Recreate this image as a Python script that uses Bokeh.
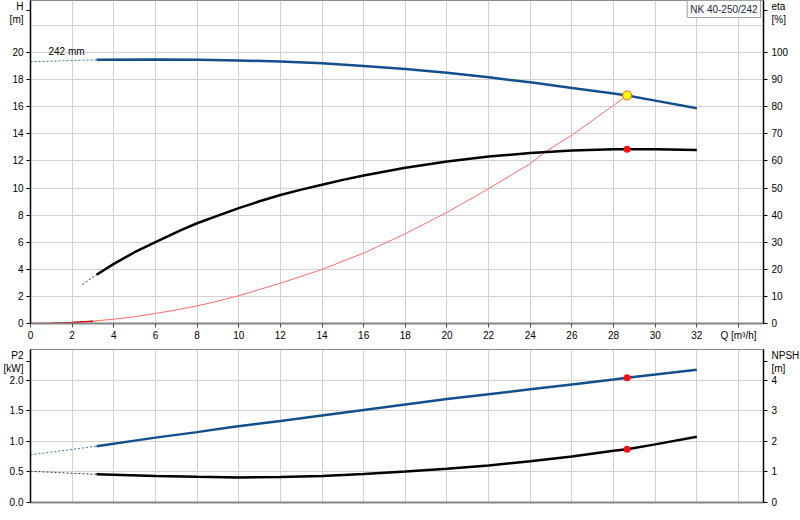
from bokeh.plotting import figure
from bokeh.layouts import column
from bokeh.models import Range1d, LinearAxis, FixedTicker, Label, PrintfTickFormatter
from bokeh.embed import file_html
from bokeh.resources import INLINE

# ---------------- data ----------------
pump_name = "NK 40-250/242"
impeller_label = "242 mm"

q_ticks = list(range(0, 36, 2))
q_tick_labels = {34: "Q [m³/h]"}
h_ticks = list(range(0, 22, 2))
h_grid = list(range(0, 24, 2))
h_unit = {23.1: "H\n[m]"}
eta_ticks = list(range(0, 110, 10))
eta_unit = {115.5: "eta\n[%]"}
p2_ticks = [0.0, 0.5, 1.0, 1.5, 2.0]
p2_unit = {2.3: "P2\n[kW]"}
npsh_ticks = [0, 1, 2, 3, 4]
npsh_unit = {4.6: "NPSH\n[m]"}

# head curve (H, m)
h_ext_q = [0.0, 3.17]
h_ext = [19.32, 19.46]
h_q = [3.17, 6, 8, 10, 12, 14, 16, 18, 20, 22, 24, 26, 28, 28.65, 30, 32]
h_val = [19.46, 19.48, 19.47, 19.42, 19.33, 19.2, 19.0, 18.78, 18.5, 18.17, 17.8, 17.38, 16.98, 16.83, 16.45, 15.88]

# efficiency curve (eta, %)
eta_ext_q = [2.5, 3.17]
eta_ext = [14.4, 18.0]
eta_q = [3.17, 4, 5, 6, 7.2, 8, 9, 10, 11, 12, 13, 14, 15, 16, 18, 20, 22, 24, 26, 28, 28.65, 30, 32]
eta_val = [18.0, 22.0, 26.3, 30.0, 34.4, 37.0, 39.8, 42.6, 45.1, 47.4, 49.4, 51.2, 53.0, 54.6, 57.5, 59.8, 61.6, 62.9, 63.8, 64.3, 64.35, 64.35, 64.0]

# system curve (H, m)
sys_q = [0, 1, 2, 3, 4, 5, 6, 7, 8, 8.76, 10, 12, 13.96, 16, 18, 18.43, 20, 22, 24, 24.8, 26, 28, 28.65]
sys_h = [0, 0.02, 0.08, 0.17, 0.32, 0.5, 0.74, 1.0, 1.3, 1.56, 2.05, 2.97, 3.97, 5.2, 6.62, 6.97, 8.2, 9.95, 11.8, 12.75, 13.9, 16.1, 16.83]

# power P2 (kW)
p2_ext_q = [0.0, 3.17]
p2_ext = [0.78, 0.92]
p2_q = [3.17, 6, 8, 9.6, 12, 14, 16, 18, 20, 22, 24, 26, 28, 28.65, 30, 32]
p2_val = [0.92, 1.06, 1.15, 1.23, 1.33, 1.42, 1.51, 1.6, 1.69, 1.77, 1.85, 1.93, 2.01, 2.04, 2.09, 2.17]

# NPSH (m)
npsh_ext_q = [0.0, 3.17]
npsh_ext = [1.02, 0.92]
npsh_q = [3.17, 6, 8, 10, 12, 14, 16, 18, 20, 22, 24, 26, 28, 28.65, 30, 32]
npsh_val = [0.92, 0.87, 0.84, 0.82, 0.83, 0.87, 0.93, 1.01, 1.10, 1.21, 1.35, 1.50, 1.69, 1.74, 1.90, 2.15]

# duty point
duty_q = 28.65
duty_h = 16.83
duty_eta = 64.35
duty_p2 = 2.04
duty_npsh = 1.74

# ---------------- style ----------------
FONT = "Liberation Sans"
FS = "10px"
BLUE = "#134f8c"
GRID = "#d2d2d2"
TXT = "#000000"

FW = 733
LB = 28


def style_common(p):
    p.background_fill_color = "white"
    p.border_fill_color = "white"
    p.outline_line_color = "#8a8a8a"
    p.outline_line_width = 1
    p.xgrid.ticker = FixedTicker(ticks=q_ticks)
    p.xgrid.grid_line_color = GRID
    p.ygrid.grid_line_color = GRID


def style_axis(ax, color="black", width=1.5, tick_out=4, standoff=3):
    ax.axis_line_color = color
    ax.axis_line_width = width
    ax.major_tick_line_color = color
    ax.major_tick_out = tick_out
    ax.major_tick_in = 0
    ax.minor_tick_line_color = None
    ax.major_label_text_font = FONT
    ax.major_label_text_font_size = FS
    ax.major_label_text_color = TXT
    ax.major_label_standoff = standoff


# ---------------- top chart ----------------
top = figure(frame_width=FW, frame_height=323, min_border_left=LB, min_border_right=30,
             min_border_top=0, min_border_bottom=26,
             x_range=Range1d(0, 35.2), y_range=Range1d(0, 23.84),
             output_backend="svg", toolbar_location=None)
style_common(top)
top.ygrid.ticker = FixedTicker(ticks=h_grid)
top.extra_y_ranges = {"eta": Range1d(0, 119.2)}

top.xaxis.ticker = FixedTicker(ticks=q_ticks)
top.xaxis.major_label_overrides = q_tick_labels
style_axis(top.xaxis[0], color="#858585", width=2, tick_out=4, standoff=2)
top.xaxis.major_tick_line_color = "#505050"
top.xaxis.major_tick_line_width = 1

top.yaxis.ticker = FixedTicker(ticks=h_ticks + list(h_unit))
top.yaxis.major_label_overrides = h_unit
style_axis(top.yaxis[0])

eta_axis = LinearAxis(y_range_name="eta", ticker=FixedTicker(ticks=eta_ticks + list(eta_unit)),
                      major_label_overrides=eta_unit)
style_axis(eta_axis, standoff=4)
top.add_layout(eta_axis, "right")

# system curve
top.line(sys_q, sys_h, line_color="#ff6a6a", line_width=1)
top.line(sys_q[:4], sys_h[:4], line_color="#d40000", line_width=1.5)
# head
top.line(h_ext_q, h_ext, line_color=BLUE, line_width=1, line_dash="2 2", line_alpha=0.8)
top.line(h_q, h_val, line_color=BLUE, line_width=2.5)
# efficiency
top.line(eta_ext_q, eta_ext, y_range_name="eta", line_color="#333333", line_width=1, line_dash="2 2")
top.line(eta_q, eta_val, y_range_name="eta", line_color="black", line_width=2.5)
# duty points
top.scatter([duty_q], [duty_eta], y_range_name="eta", size=7, fill_color="#ff1010", line_color=None)
top.scatter([duty_q], [duty_h], size=9, fill_color="#ffff00", line_color="#ff5030", line_width=1)

top.add_layout(Label(x=h_ext_q[0], y=h_ext[0], x_offset=18, y_offset=5, text=impeller_label,
                     text_font=FONT, text_font_size=FS, text_color=TXT))
top.add_layout(Label(x=FW - 3, y=323, x_units="screen", y_units="screen", text=pump_name,
                     text_align="right", text_baseline="top",
                     text_font=FONT, text_font_size=FS, text_color="#1c2740",
                     background_fill_color="white", border_line_color="#a0a0a0",
                     border_line_width=1, padding=3))

# ---------------- bottom chart ----------------
bot = figure(frame_width=FW, frame_height=153, min_border_left=LB, min_border_right=30,
             min_border_top=0, min_border_bottom=8,
             x_range=Range1d(0, 35.2), y_range=Range1d(0, 2.5),
             output_backend="svg", toolbar_location=None)
style_common(bot)
bot.ygrid.ticker = FixedTicker(ticks=p2_ticks)
bot.extra_y_ranges = {"npsh": Range1d(0, 5)}

bot.xaxis.ticker = FixedTicker(ticks=[])
style_axis(bot.xaxis[0], color="#858585", width=2, tick_out=0, standoff=0)

bot.yaxis.ticker = FixedTicker(ticks=p2_ticks + list(p2_unit))
bot.yaxis.formatter = PrintfTickFormatter(format="%.1f")
bot.yaxis.major_label_overrides = p2_unit
style_axis(bot.yaxis[0])

npsh_axis = LinearAxis(y_range_name="npsh", ticker=FixedTicker(ticks=npsh_ticks + list(npsh_unit)),
                       major_label_overrides=npsh_unit)
style_axis(npsh_axis, standoff=4)
bot.add_layout(npsh_axis, "right")

bot.line(p2_ext_q, p2_ext, line_color=BLUE, line_width=1, line_dash="2 2", line_alpha=0.8)
bot.line(p2_q, p2_val, line_color=BLUE, line_width=2.5)
bot.line(npsh_ext_q, npsh_ext, y_range_name="npsh", line_color="#333333", line_width=1, line_dash="2 2")
bot.line(npsh_q, npsh_val, y_range_name="npsh", line_color="black", line_width=2.5)
bot.scatter([duty_q], [duty_p2], size=7, fill_color="#ff1010", line_color=None)
bot.scatter([duty_q], [duty_npsh], y_range_name="npsh", size=7, fill_color="#ff1010", line_color=None)

layout = column(top, bot, spacing=0)
open("out.html", "w").write(file_html(layout, INLINE))
